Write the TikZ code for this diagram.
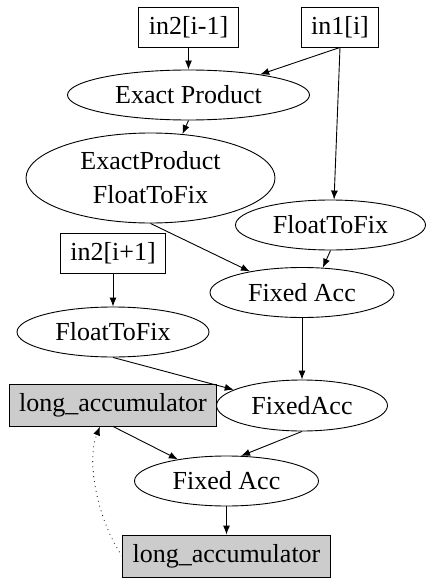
\documentclass[tikz,border=0pt]{standalone}
\usepackage{fontspec}
\setmainfont{Liberation Serif}
\usetikzlibrary{shapes.geometric,arrows.meta}

\begin{document}
\begin{tikzpicture}[x=1pt,y=-1pt,line width=0.9pt,
  font=\fontsize{26}{34}\selectfont,
  inbox/.style={draw,rectangle,inner xsep=10pt,inner ysep=0pt,minimum height=40pt},
  accbox/.style={inbox,fill=black!20,minimum height=42pt},
  op/.style={draw,ellipse,inner sep=0pt,minimum height=50pt},
  edge/.style={-{Latex[length=9pt,width=7pt]}},
  loop/.style={edge,line width=1.1pt,line cap=round,dash pattern=on 0pt off 5pt}]
\useasboundingbox (0,0) rectangle (426,578);
\node[inbox] (inprev) at (188.5,27.5) {in2[i-1]};
\node[inbox] (inone) at (340,27) {in1[i]};
\node[op,minimum width=242pt] (prod) at (188.5,95) {Exact Product};
\node[op,minimum width=249pt,minimum height=90pt,align=center] (prodfix) at (150.5,178) {ExactProduct\\FloatToFix};
\node[op,minimum width=190pt] (fixr) at (330.5,225) {FloatToFix};
\node[inbox] (innext) at (113,253) {in2[i+1]};
\node[op,minimum width=184pt] (acc1) at (302,292.5) {Fixed Acc};
\node[op,minimum width=192pt] (fixl) at (113,332) {FloatToFix};
\node[accbox] (longtop) at (113,405) {long\_accumulator};
\node[op,minimum width=171pt,minimum height=51pt] (acc2) at (302,405.5) {FixedAcc};
\node[op,minimum width=184pt] (acc3) at (226.5,481) {Fixed Acc};
\node[accbox] (longbot) at (226.5,556) {long\_accumulator};
\draw[edge] (inprev) -- (prod);
\draw[edge] (inone.south) -- (prod.16);
\draw[edge] (inone.south) -- (fixr.82);
\draw[edge] (prod.south) -- (prodfix.54);
\draw[edge] (prodfix.south) -- (acc1.158);
\draw[edge] (fixr.south) -- (acc1.50);
\draw[edge] (innext) -- (fixl);
\draw[edge] (acc1) -- (acc2);
\draw[edge] (fixl.south) -- (acc2.167);
\draw[edge] (longtop.south) -- (acc3.156);
\draw[edge] (acc2.south) -- (acc3.60);
\draw[edge] (acc3) -- (longbot);
\draw[loop] (longbot.west) .. controls +(-22,-31) and +(-15,38) .. ([xshift=-13pt]longtop.south);
\end{tikzpicture}
\end{document}
